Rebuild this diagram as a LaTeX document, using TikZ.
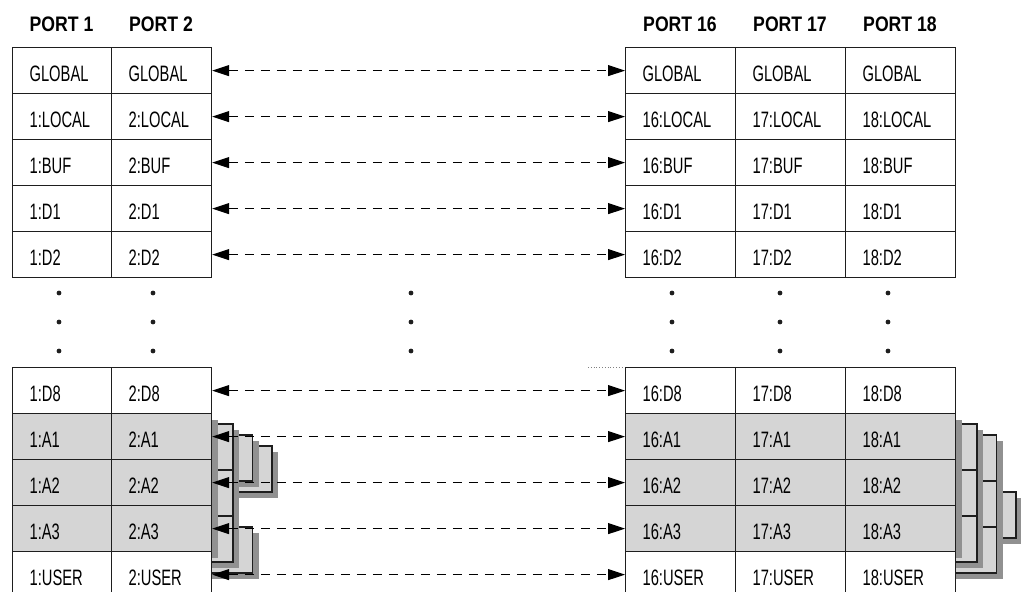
\documentclass[tikz,border=0pt]{standalone}
\usepackage{fontspec}
\setmainfont{Liberation Sans}[FakeStretch=0.66]
\newfontfamily\hdrfont{Liberation Sans}[FakeStretch=0.84]
\usetikzlibrary{arrows.meta}
\definecolor{cardgray}{RGB}{213,213,213}
\definecolor{shadegray}{RGB}{145,145,145}
\definecolor{linecol}{RGB}{30,30,30}
\tikzset{
  cell/.style={draw=linecol, line width=1.2pt, anchor=north west, minimum height=46pt,
    inner xsep=17pt, inner ysep=0pt, text height=22pt, text depth=0pt, align=left,
    font=\fontsize{22.3}{22.3}\selectfont},
  hdr/.style={anchor=base, inner sep=0pt, font=\hdrfont\bfseries\fontsize{21}{21}\selectfont},
  link/.style={line width=1pt, dash pattern=on 9pt off 7pt,
    {Triangle[length=17pt,width=11pt]}-{Triangle[length=17pt,width=11pt]}},
  cardedge/.style={draw=linecol, line width=1.1pt},
}
\newcommand{\stackcard}[3]{%
  \pgfmathsetmacro{\xr}{#1+22+19.5*(#3-1)}%
  \pgfmathsetmacro{\tp}{#2+11*#3}%
  \fill[shadegray] (#1-4,\tp+6) rectangle (\xr+6,\tp+52);
  \fill[cardgray] (#1-10,\tp) rectangle (\xr,\tp+46);
  \draw[cardedge] (#1-10,\tp) -- (\xr,\tp) -- (\xr,\tp+46) -- (#1-10,\tp+46);
}
\begin{document}
\begin{tikzpicture}[x=1pt,y=-1pt]
\useasboundingbox (0,0) rectangle (1021,592);
\clip (0,0) rectangle (1021,592);
% stacked cards behind the A rows (back to front)
\stackcard{211}{413}{3}
\stackcard{955}{459}{3}
\stackcard{211}{413}{2}
\stackcard{211}{505}{2}
\stackcard{955}{413}{2}
\stackcard{955}{459}{2}
\stackcard{955}{505}{2}
\foreach \r in {211,955}{
  \stackcard{\r}{413}{1}
  \stackcard{\r}{459}{1}
  \stackcard{\r}{505}{1}
  \fill[shadegray] (\r-10,420) rectangle (\r+7,558);
}
% headers
\node[hdr] (h1) at (61.5,31) {PORT 1};
\node[hdr] (h2) at (161,31) {PORT 2};
\node[hdr] (h16) at (680,31) {PORT 16};
\node[hdr] (h17) at (790,31) {PORT 17};
\node[hdr] (h18) at (900,31) {PORT 18};
% cells
\foreach \p/\x/\w in {1/12/99, 2/111/100, 16/625/110, 17/735/110, 18/845/110}{
  \pgfmathsetmacro{\tw}{\w-34}
  \node[cell, text width=\tw pt, minimum width=\w pt] (c\p-GLOBAL) at (\x,47) {GLOBAL};
  \foreach \k/\t/\f in {LOCAL/93/white, BUF/139/white, D1/185/white, D2/231/white,
                        D8/367/white, A1/413/cardgray, A2/459/cardgray, A3/505/cardgray, USER/551/white}{
    \node[cell, fill=\f, text width=\tw pt, minimum width=\w pt] (c\p-\k) at (\x,\t) {\p:\k};
  }
}
% connectors
\foreach \k in {GLOBAL,LOCAL,BUF,D1,D2,D8,A1,A2,A3,USER}{
  \draw[link] (c2-\k.east) -- (c16-\k.west);
}
% ellipsis dots
\foreach \x in {59,153,411,672,780,888}{
  \foreach \y in {293,322,351}{
    \fill[linecol] (\x,\y) circle (2.4pt);
  }
}
\draw[gray, dotted, line width=0.8pt] (588,367) -- (624,367);
\end{tikzpicture}
\end{document}
